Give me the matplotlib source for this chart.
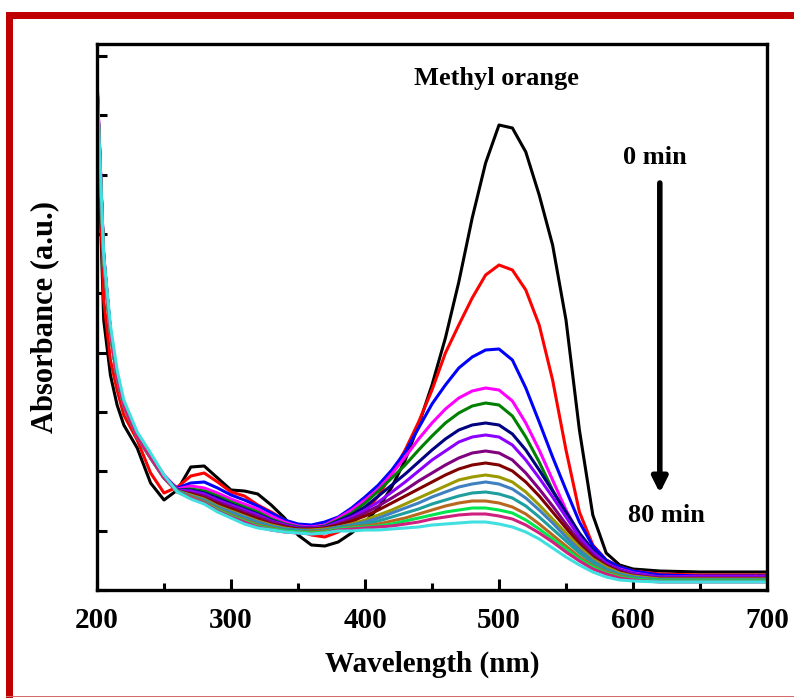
import numpy as np
import matplotlib
matplotlib.use("Agg")
import matplotlib.pyplot as plt
from matplotlib.patches import Rectangle

plt.rcParams['font.family'] = ['Liberation Serif', 'DejaVu Serif']
plt.rcParams['font.weight'] = 'bold'

# wavelength grid (nm) shared by all spectra
wavelength = [200, 205, 210, 215, 220, 230, 240, 250, 260, 270, 280, 290, 300,
              310, 320, 330, 340, 350, 360, 370, 380, 390, 400, 410, 420, 430,
              440, 450, 460, 470, 480, 490, 500, 510, 520, 530, 540, 550, 560,
              570, 580, 590, 600, 620, 650, 700]

# absorbance (a.u.) of methyl orange, one spectrum per sampling time
abs_0 = [4.85, 2.70, 2.15, 1.85, 1.65, 1.42, 1.07, 0.90, 1.00, 1.23, 1.24, 1.12, 1.00,
         0.99, 0.96, 0.85, 0.72, 0.55, 0.45, 0.44, 0.48, 0.57, 0.68, 0.82, 1.03, 1.30,
         1.65, 2.05, 2.52, 3.08, 3.72, 4.27, 4.65, 4.62, 4.38, 3.95, 3.45, 2.70, 1.60,
         0.75, 0.37, 0.25, 0.21, 0.19, 0.18, 0.18]
abs_1 = [4.90, 2.90, 2.30, 2.00, 1.75, 1.50, 1.17, 0.97, 1.03, 1.14, 1.17, 1.08, 0.98,
         0.94, 0.85, 0.78, 0.70, 0.60, 0.55, 0.53, 0.58, 0.66, 0.78, 0.94, 1.16, 1.40,
         1.68, 2.00, 2.37, 2.65, 2.92, 3.15, 3.25, 3.20, 3.00, 2.65, 2.10, 1.40, 0.78,
         0.45, 0.30, 0.23, 0.19, 0.16, 0.15, 0.15]
abs_2 = [5.02, 3.28, 2.58, 2.12, 1.86, 1.55, 1.32, 1.12, 1.02, 1.07, 1.08, 1.02, 0.95,
         0.90, 0.84, 0.77, 0.70, 0.66, 0.65, 0.68, 0.73, 0.82, 0.93, 1.05, 1.20, 1.38,
         1.62, 1.86, 2.05, 2.22, 2.33, 2.40, 2.41, 2.30, 2.02, 1.68, 1.33, 1.00, 0.68,
         0.44, 0.30, 0.23, 0.19, 0.15, 0.14, 0.14]
abs_3 = [5.12, 3.35, 2.60, 2.14, 1.86, 1.55, 1.35, 1.15, 1.01, 1.04, 1.02, 0.97, 0.91,
         0.86, 0.81, 0.74, 0.68, 0.64, 0.63, 0.65, 0.72, 0.80, 0.90, 1.01, 1.16, 1.33,
         1.51, 1.67, 1.81, 1.92, 1.99, 2.02, 2.00, 1.89, 1.67, 1.40, 1.10, 0.80, 0.55,
         0.38, 0.27, 0.21, 0.17, 0.13, 0.13, 0.13]
abs_4 = [5.06, 3.32, 2.59, 2.14, 1.86, 1.55, 1.34, 1.14, 1.00, 1.01, 0.99, 0.94, 0.88,
         0.83, 0.78, 0.71, 0.66, 0.63, 0.62, 0.64, 0.70, 0.77, 0.87, 0.99, 1.12, 1.25,
         1.40, 1.54, 1.67, 1.77, 1.84, 1.87, 1.85, 1.74, 1.53, 1.28, 1.00, 0.76, 0.54,
         0.38, 0.27, 0.20, 0.16, 0.13, 0.12, 0.12]
abs_5 = [5.04, 3.31, 2.59, 2.14, 1.86, 1.55, 1.34, 1.14, 1.00, 1.00, 0.97, 0.92, 0.86,
         0.81, 0.76, 0.70, 0.65, 0.62, 0.62, 0.63, 0.69, 0.75, 0.83, 0.94, 1.05, 1.16,
         1.28, 1.40, 1.51, 1.60, 1.65, 1.67, 1.65, 1.56, 1.40, 1.20, 0.99, 0.78, 0.57,
         0.40, 0.28, 0.20, 0.16, 0.12, 0.12, 0.12]
abs_6 = [5.10, 3.34, 2.60, 2.14, 1.86, 1.55, 1.34, 1.14, 1.00, 0.99, 0.96, 0.90, 0.85,
         0.80, 0.75, 0.69, 0.65, 0.62, 0.62, 0.63, 0.68, 0.73, 0.80, 0.88, 0.98, 1.08,
         1.19, 1.30, 1.39, 1.48, 1.53, 1.55, 1.53, 1.45, 1.30, 1.12, 0.93, 0.73, 0.53,
         0.38, 0.27, 0.20, 0.16, 0.13, 0.13, 0.13]
abs_7 = [5.08, 3.33, 2.59, 2.13, 1.85, 1.54, 1.33, 1.13, 0.99, 0.97, 0.94, 0.88, 0.83,
         0.78, 0.73, 0.68, 0.64, 0.61, 0.61, 0.62, 0.66, 0.71, 0.77, 0.84, 0.92, 1.00,
         1.09, 1.17, 1.25, 1.32, 1.37, 1.39, 1.37, 1.30, 1.17, 1.01, 0.84, 0.66, 0.49,
         0.35, 0.25, 0.19, 0.15, 0.12, 0.12, 0.12]
abs_8 = [5.03, 3.30, 2.58, 2.13, 1.85, 1.54, 1.33, 1.13, 0.99, 0.96, 0.92, 0.86, 0.81,
         0.76, 0.71, 0.66, 0.63, 0.61, 0.61, 0.62, 0.65, 0.69, 0.74, 0.80, 0.87, 0.94,
         1.01, 1.08, 1.15, 1.21, 1.25, 1.27, 1.25, 1.19, 1.08, 0.94, 0.78, 0.62, 0.46,
         0.33, 0.24, 0.18, 0.14, 0.11, 0.11, 0.11]
abs_9 = [5.05, 3.31, 2.58, 2.13, 1.85, 1.54, 1.33, 1.13, 0.99, 0.95, 0.91, 0.84, 0.79,
         0.74, 0.69, 0.65, 0.62, 0.60, 0.60, 0.61, 0.63, 0.66, 0.70, 0.75, 0.80, 0.86,
         0.92, 0.98, 1.04, 1.10, 1.13, 1.15, 1.13, 1.08, 0.98, 0.85, 0.71, 0.57, 0.43,
         0.31, 0.23, 0.17, 0.14, 0.11, 0.11, 0.11]
abs_10 = [5.04, 3.30, 2.57, 2.12, 1.84, 1.53, 1.32, 1.12, 0.99, 0.94, 0.90, 0.83, 0.78,
          0.73, 0.68, 0.64, 0.61, 0.60, 0.59, 0.60, 0.63, 0.65, 0.68, 0.72, 0.77, 0.82,
          0.87, 0.93, 0.98, 1.03, 1.06, 1.08, 1.06, 1.01, 0.92, 0.80, 0.67, 0.53, 0.40,
          0.29, 0.21, 0.16, 0.13, 0.10, 0.10, 0.10]
abs_11 = [5.06, 3.32, 2.58, 2.12, 1.84, 1.53, 1.32, 1.12, 0.99, 0.93, 0.89, 0.82, 0.76,
          0.71, 0.66, 0.63, 0.60, 0.59, 0.58, 0.59, 0.62, 0.64, 0.66, 0.69, 0.73, 0.77,
          0.81, 0.86, 0.90, 0.94, 0.97, 0.98, 0.96, 0.92, 0.84, 0.73, 0.61, 0.49, 0.37,
          0.27, 0.20, 0.15, 0.12, 0.10, 0.10, 0.10]
abs_12 = [5.02, 3.29, 2.57, 2.12, 1.84, 1.53, 1.32, 1.12, 0.98, 0.93, 0.88, 0.81, 0.75,
          0.70, 0.65, 0.62, 0.59, 0.58, 0.58, 0.59, 0.61, 0.63, 0.64, 0.66, 0.69, 0.72,
          0.76, 0.80, 0.84, 0.87, 0.89, 0.89, 0.87, 0.83, 0.76, 0.66, 0.55, 0.44, 0.33,
          0.24, 0.18, 0.14, 0.11, 0.09, 0.09, 0.09]
abs_13 = [5.05, 3.31, 2.57, 2.12, 1.84, 1.53, 1.32, 1.12, 0.98, 0.92, 0.87, 0.80, 0.74,
          0.69, 0.64, 0.61, 0.59, 0.58, 0.57, 0.58, 0.61, 0.62, 0.63, 0.64, 0.66, 0.69,
          0.72, 0.75, 0.78, 0.80, 0.82, 0.82, 0.80, 0.77, 0.70, 0.61, 0.51, 0.41, 0.31,
          0.23, 0.17, 0.13, 0.11, 0.09, 0.09, 0.09]
abs_14 = [5.10, 3.33, 2.58, 2.12, 1.84, 1.53, 1.32, 1.12, 0.98, 0.92, 0.87, 0.79, 0.73,
          0.68, 0.63, 0.60, 0.58, 0.57, 0.56, 0.57, 0.60, 0.61, 0.62, 0.63, 0.64, 0.66,
          0.68, 0.71, 0.73, 0.75, 0.76, 0.76, 0.74, 0.71, 0.65, 0.57, 0.48, 0.38, 0.29,
          0.21, 0.16, 0.12, 0.10, 0.08, 0.08, 0.08]
abs_15 = [5.07, 3.35, 2.65, 2.20, 1.90, 1.58, 1.37, 1.15, 0.98, 0.91, 0.86, 0.78, 0.72,
          0.66, 0.62, 0.60, 0.58, 0.57, 0.56, 0.57, 0.59, 0.59, 0.60, 0.60, 0.61, 0.62,
          0.63, 0.65, 0.66, 0.67, 0.68, 0.68, 0.66, 0.63, 0.58, 0.51, 0.42, 0.33, 0.25,
          0.18, 0.13, 0.10, 0.09, 0.08, 0.08, 0.08]

spectra = [abs_0, abs_1, abs_2, abs_3, abs_4, abs_5, abs_6, abs_7,
           abs_8, abs_9, abs_10, abs_11, abs_12, abs_13, abs_14, abs_15]
colors = ['#000000', '#FF0000', '#0000FF', '#FF00FF', '#008000', '#000080',
          '#8B00FF', '#800080', '#800000', '#9A9A00', '#3F80C0', '#1E9E9E',
          '#B8681E', '#00E64D', '#D0207F', '#40E0E0']

fig = plt.figure(figsize=(7.94, 6.98), dpi=100)

# red frame around the panel
fig.patches.append(Rectangle((6 / 794, 0), 7 / 794, 686 / 698, transform=fig.transFigure,
                             facecolor='#C00000', edgecolor='none'))
fig.patches.append(Rectangle((6 / 794, 679 / 698), 788 / 794, 7 / 698, transform=fig.transFigure,
                             facecolor='#C00000', edgecolor='none'))
fig.patches.append(Rectangle((6 / 794, 1 / 698), 788 / 794, 1 / 698, transform=fig.transFigure,
                             facecolor='#D46A6A', edgecolor='none'))

ax = fig.add_axes([97 / 794, 108 / 698, 670 / 794, 546 / 698])

for spec, c in zip(spectra, colors):
    ax.plot(wavelength, spec, color=c, lw=2.2, solid_joinstyle='round')

ax.set_xlim(200, 700)
ax.set_ylim(0, 5.46)
ax.set_xticks([200, 300, 400, 500, 600, 700])
ax.set_xticks([250, 350, 450, 550, 650], minor=True)
ax.set_yticks(np.linspace(0, 5.34, 10))
ax.set_yticklabels([])
ax.tick_params(axis='both', which='both', direction='in', width=2.2)
ax.tick_params(axis='x', which='major', length=8, pad=12, labelsize=21)
ax.tick_params(axis='x', which='minor', length=5)
ax.tick_params(axis='y', which='major', length=7)
for lab in ax.get_xticklabels():
    lab.set_fontweight('bold')
for sp in ax.spines.values():
    sp.set_linewidth(2.4)

ax.set_xlabel('Wavelength (nm)', fontsize=21, fontweight='bold', labelpad=12)
ax.set_ylabel('Absorbance (a.u.)', fontsize=22, fontweight='bold', labelpad=24)

ax.text(498, 5.12, 'Methyl orange', fontsize=19, fontweight='bold', ha='center', va='center')
ax.text(616, 4.32, '0 min', fontsize=19, fontweight='bold', ha='center', va='center')
ax.text(625, 0.75, '80 min', fontsize=19, fontweight='bold', ha='center', va='center')
ax.annotate('', xy=(620, 0.97), xytext=(620, 4.07),
            arrowprops=dict(arrowstyle='-|>,head_length=0.9,head_width=0.45',
                            color='black', lw=4, shrinkA=0, shrinkB=0))

fig.savefig('out.png', dpi=100)
